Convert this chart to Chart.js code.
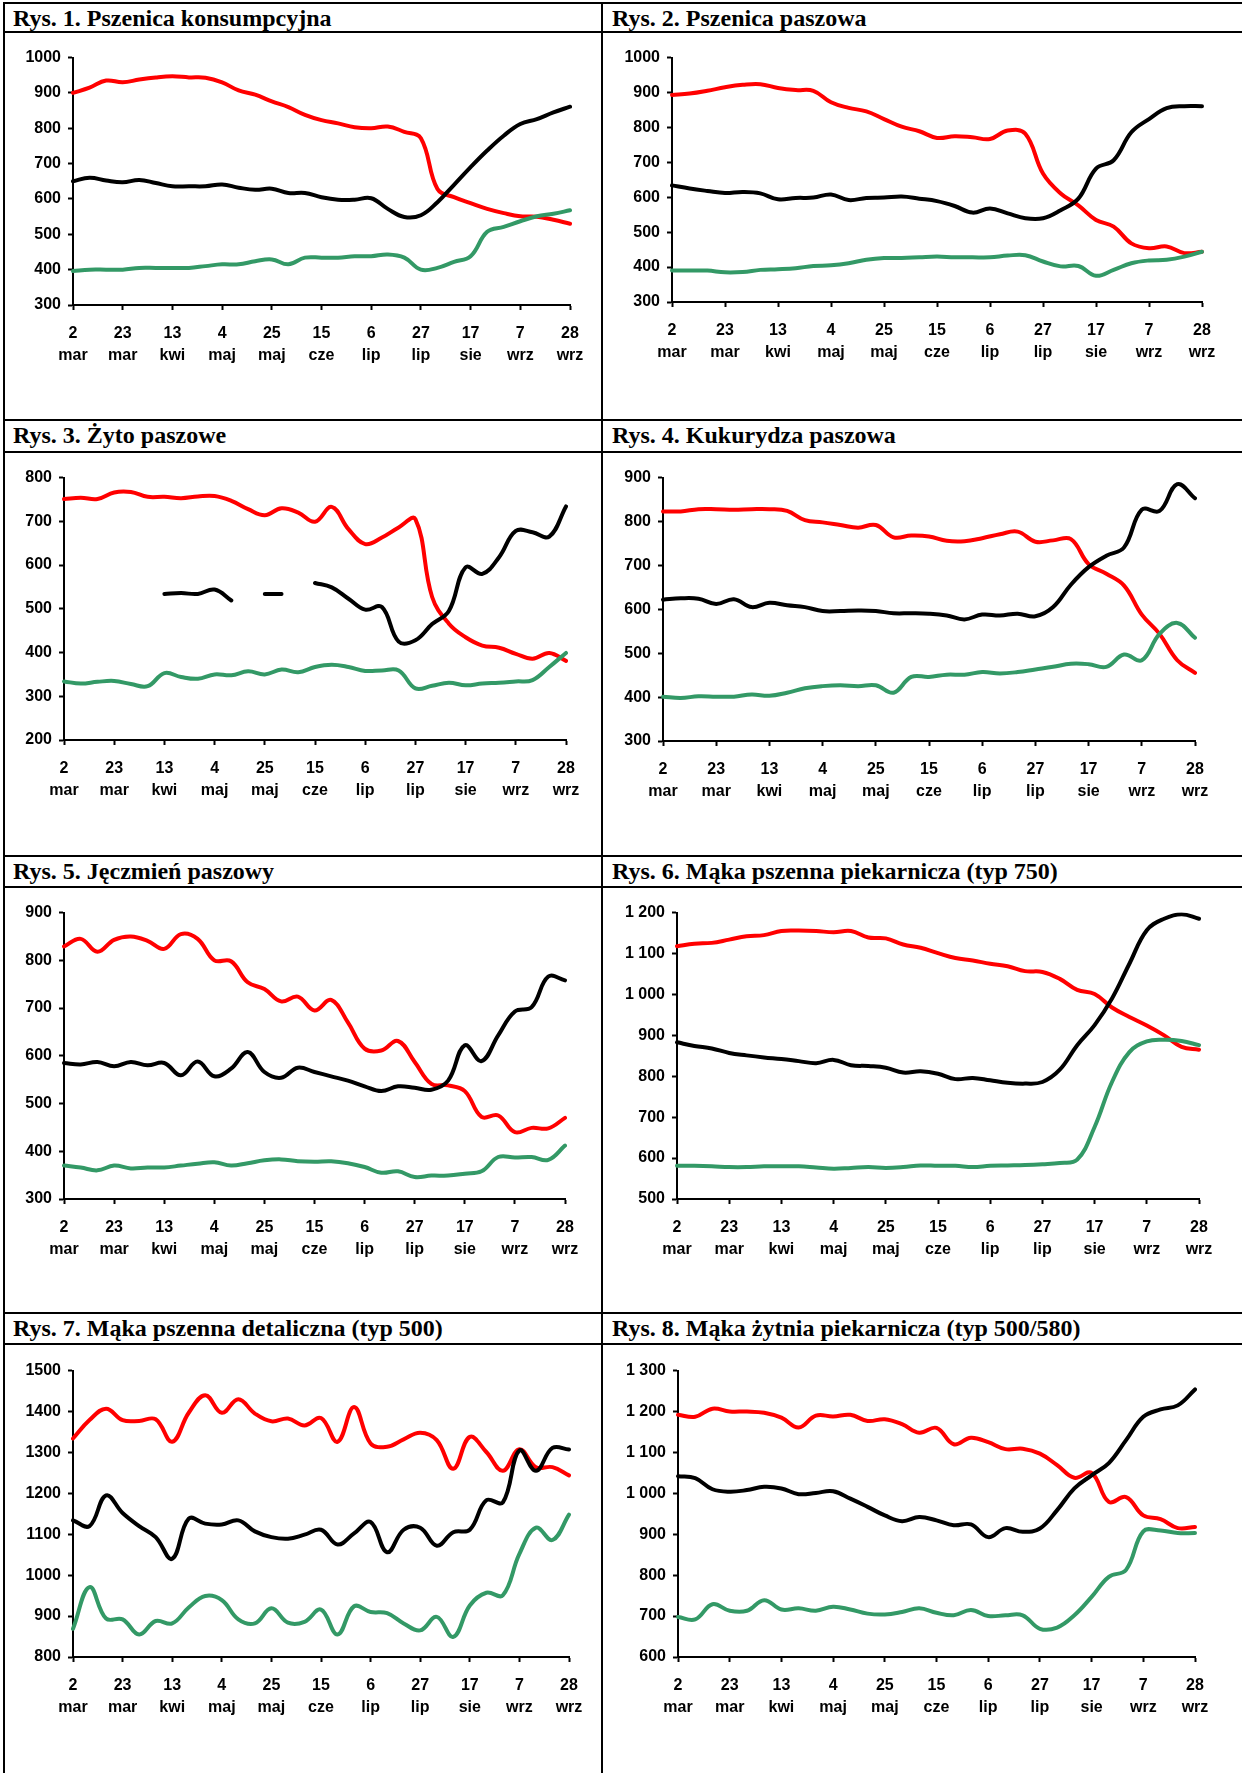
<!DOCTYPE html>
<html lang="pl">
<head>
<meta charset="utf-8">
<script src="https://cdn.jsdelivr.net/npm/chart.js@4.4.0/dist/chart.umd.min.js"></script>
<style>
  body { margin: 0; background: #fff; width: 1242px; height: 1773px; position: relative; overflow: hidden; }
  .linia { position: absolute; background: #000; }
  .tytul { position: absolute; font: bold 24px "Liberation Serif", "Times New Roman", serif; line-height: 24px; white-space: nowrap; color: #000; }
  canvas { position: absolute; }
</style>
</head>
<body>
<script>
// tygodnie notowan (co 7 dni), etykieta co trzeci tydzien
const tygodnie = ['2 mar','9 mar','16 mar','23 mar','30 mar','6 kwi','13 kwi','20 kwi','27 kwi',
  '4 maj','11 maj','18 maj','25 maj','1 cze','8 cze','15 cze','22 cze','29 cze','6 lip','13 lip',
  '20 lip','27 lip','3 sie','10 sie','17 sie','24 sie','31 sie','7 wrz','14 wrz','21 wrz','28 wrz'];

const tytuly = [
  'Rys. 1. Pszenica konsumpcyjna',
  'Rys. 2. Pszenica paszowa',
  'Rys. 3. Żyto paszowe',
  'Rys. 4. Kukurydza paszowa',
  'Rys. 5. Jęczmień paszowy',
  'Rys. 6. Mąka pszenna piekarnicza (typ 750)',
  'Rys. 7. Mąka pszenna detaliczna (typ 500)',
  'Rys. 8. Mąka żytnia piekarnicza (typ 500/580)'
];

// zakresy osi Y: [min, max, krok]
const osieY = [[300, 1000, 100], [300, 1000, 100], [200, 800, 100], [300, 900, 100],
  [300, 900, 100], [500, 1200, 100], [800, 1500, 100], [600, 1300, 100]];

// Rys. 1
const rys1Czerwona = [900, 915, 935, 930, 938, 944, 947, 944, 943, 930, 907, 895, 876, 860, 838, 823, 814, 803, 800, 805, 790, 772, 628, 605, 588, 572, 560, 551, 550, 541, 530];
const rys1Czarna = [650, 660, 652, 647, 654, 645, 636, 636, 636, 641, 632, 626, 629, 617, 617, 605, 598, 598, 602, 572, 549, 554, 591, 640, 690, 737, 779, 812, 826, 845, 861];
const rys1Zielona = [396, 400, 400, 400, 405, 405, 405, 405, 410, 415, 415, 424, 429, 415, 434, 434, 434, 438, 438, 443, 434, 400, 405, 422, 438, 507, 521, 537, 551, 558, 568];

// Rys. 2
const rys2Czerwona = [893, 897, 905, 915, 922, 924, 913, 907, 905, 872, 856, 846, 824, 802, 789, 770, 775, 772, 767, 791, 782, 668, 611, 577, 535, 516, 468, 454, 459, 440, 444];
const rys2Czarna = [634, 625, 618, 612, 615, 611, 594, 598, 599, 608, 592, 598, 599, 602, 596, 589, 575, 556, 568, 554, 540, 540, 563, 596, 682, 706, 786, 824, 855, 861, 861];
const rys2Zielona = [390, 390, 390, 385, 386, 392, 394, 397, 403, 405, 411, 421, 426, 426, 428, 430, 428, 428, 428, 433, 434, 416, 402, 403, 375, 392, 411, 419, 421, 430, 444];

// Rys. 3
const rys3Czerwona = [751, 754, 751, 766, 767, 756, 756, 753, 757, 758, 747, 728, 714, 730, 720, 699, 733, 682, 648, 663, 686, 705, 527, 466, 435, 416, 411, 397, 386, 399, 381];
const rys3Czarna = [null, null, null, null, null, null, 534, 536, 534, 544, 519, null, 534, 534, null, 559, 549, 523, 498, 504, 425, 428, 465, 495, 595, 580, 618, 678, 675, 665, 734];
const rys3Zielona = [334, 329, 333, 335, 328, 323, 353, 344, 340, 350, 348, 357, 350, 361, 355, 367, 372, 367, 358, 359, 359, 318, 324, 331, 325, 329, 331, 334, 337, 367, 399];

// Rys. 4
const rys4Czerwona = [823, 823, 828, 828, 827, 828, 828, 824, 803, 798, 792, 786, 792, 764, 768, 766, 756, 755, 762, 771, 777, 754, 757, 760, 703, 681, 654, 588, 544, 484, 455];
const rys4Czarna = [622, 625, 624, 612, 623, 605, 615, 609, 605, 596, 596, 597, 596, 591, 591, 590, 586, 577, 588, 586, 590, 584, 605, 656, 696, 722, 741, 827, 824, 885, 853];
const rys4Zielona = [401, 398, 402, 401, 401, 406, 403, 410, 420, 425, 427, 425, 427, 410, 446, 446, 451, 451, 457, 454, 457, 463, 469, 476, 475, 469, 497, 484, 544, 569, 535];

// Rys. 5
const rys5Czerwona = [829, 845, 818, 843, 850, 841, 824, 855, 845, 800, 798, 754, 740, 714, 724, 695, 717, 670, 615, 611, 631, 587, 541, 538, 526, 472, 475, 440, 449, 448, 470];
const rys5Czarna = [585, 582, 587, 578, 587, 580, 585, 559, 588, 557, 573, 608, 566, 554, 575, 566, 557, 548, 536, 526, 536, 533, 529, 548, 622, 589, 643, 693, 702, 766, 758];
const rys5Zielona = [370, 366, 360, 370, 364, 366, 366, 370, 374, 377, 370, 375, 381, 383, 379, 378, 379, 375, 367, 355, 358, 346, 349, 349, 353, 358, 388, 387, 388, 382, 412];

// Rys. 6
const rys6Czerwona = [1118, 1124, 1126, 1134, 1142, 1145, 1155, 1156, 1155, 1152, 1155, 1139, 1137, 1122, 1114, 1101, 1089, 1083, 1075, 1069, 1057, 1055, 1038, 1011, 1001, 968, 945, 924, 900, 872, 865];
const rys6Czarna = [883, 874, 868, 857, 851, 846, 842, 837, 832, 840, 827, 825, 821, 809, 812, 806, 793, 796, 790, 784, 782, 786, 816, 876, 925, 990, 1075, 1157, 1185, 1196, 1185];
const rys6Zielona = [581, 581, 580, 578, 578, 580, 580, 580, 577, 574, 576, 578, 576, 578, 582, 581, 581, 578, 581, 582, 583, 585, 588, 596, 676, 786, 859, 885, 889, 886, 876];

// Rys. 7
const rys7Czerwona = [1334, 1379, 1407, 1379, 1377, 1381, 1326, 1397, 1440, 1397, 1430, 1395, 1376, 1383, 1366, 1384, 1326, 1411, 1322, 1314, 1332, 1348, 1330, 1260, 1338, 1301, 1255, 1308, 1264, 1264, 1244];
const rys7Czarna = [1134, 1120, 1195, 1152, 1120, 1093, 1040, 1138, 1126, 1124, 1134, 1107, 1093, 1089, 1099, 1111, 1075, 1102, 1130, 1056, 1111, 1116, 1072, 1105, 1111, 1183, 1178, 1305, 1255, 1311, 1307];
const rys7Zielona = [869, 971, 894, 892, 855, 888, 882, 921, 949, 939, 892, 882, 919, 884, 886, 916, 855, 924, 910, 907, 882, 865, 898, 849, 926, 957, 951, 1052, 1116, 1086, 1148];

// Rys. 8
const rys8Czerwona = [1192, 1187, 1207, 1200, 1200, 1197, 1185, 1161, 1190, 1188, 1192, 1177, 1181, 1169, 1148, 1160, 1120, 1136, 1125, 1108, 1109, 1097, 1069, 1038, 1050, 979, 991, 946, 937, 915, 918];
const rys8Czarna = [1042, 1037, 1010, 1004, 1008, 1016, 1012, 998, 1001, 1005, 987, 967, 946, 932, 942, 934, 922, 924, 893, 915, 906, 914, 959, 1012, 1044, 1074, 1130, 1187, 1205, 1215, 1254];
const rys8Zielona = [698, 692, 729, 713, 713, 739, 716, 719, 713, 723, 716, 706, 704, 710, 719, 708, 702, 715, 700, 702, 702, 669, 672, 702, 747, 796, 813, 907, 909, 903, 903];

const serie = [
  [rys1Czerwona, rys1Czarna, rys1Zielona],
  [rys2Czerwona, rys2Czarna, rys2Zielona],
  [rys3Czerwona, rys3Czarna, rys3Zielona],
  [rys4Czerwona, rys4Czarna, rys4Zielona],
  [rys5Czerwona, rys5Czarna, rys5Zielona],
  [rys6Czerwona, rys6Czarna, rys6Zielona],
  [rys7Czerwona, rys7Czarna, rys7Zielona],
  [rys8Czerwona, rys8Czarna, rys8Zielona]
];

// obszary wykresow na stronie: [lewo, gora, prawo, dol]
const obszary = [
  [73, 57, 570, 305], [672, 57, 1202, 302],
  [64, 477, 566, 740], [663, 477, 1195, 741],
  [64, 912, 565, 1199], [677, 912, 1199, 1199],
  [73, 1370, 569, 1657], [678, 1370, 1195, 1657]
];
const spacje = [false, false, false, false, false, true, false, true];

const wierszeGora = [3, 420, 856, 1313];
const wierszeTytul = [32, 451.5, 886.5, 1344];

function linia(x, y, w, h) {
  const d = document.createElement('div');
  d.className = 'linia';
  d.style.left = x + 'px'; d.style.top = y + 'px';
  d.style.width = w + 'px'; d.style.height = h + 'px';
  document.body.appendChild(d);
}

wierszeGora.forEach(y => linia(3, y - 1, 1239, 2));
wierszeTytul.forEach(y => linia(3, y - 1, 1239, 2));
linia(3, 2, 2, 1771);
linia(601, 2, 2, 1771);

tytuly.forEach((t, i) => {
  const d = document.createElement('div');
  d.className = 'tytul';
  d.textContent = t;
  d.style.left = (i % 2 === 0 ? 13 : 612) + 'px';
  d.style.top = (wierszeGora[Math.floor(i / 2)] + 3) + 'px';
  document.body.appendChild(d);
});

Chart.defaults.font.family = '"Liberation Sans", Arial, sans-serif';
Chart.defaults.font.weight = 'bold';
Chart.defaults.font.size = 16;
Chart.defaults.color = '#000';

const OS_Y = 72, GORA = 16, PRAWO = 40, OS_X = 70;

function formatuj(v, zSpacja) {
  if (zSpacja && v >= 1000) return Math.floor(v / 1000) + ' ' + String(v % 1000).padStart(3, '0');
  return String(v);
}

serie.forEach((dane, i) => {
  const [l, t, r, b] = obszary[i];
  const [ymin, ymax, krok] = osieY[i];
  const c = document.createElement('canvas');
  const w = r - l + OS_Y + PRAWO, h = b - t + GORA + OS_X;
  c.width = w; c.height = h;
  c.style.left = (l - OS_Y) + 'px'; c.style.top = (t - GORA) + 'px';
  c.style.width = w + 'px'; c.style.height = h + 'px';
  document.body.appendChild(c);

  new Chart(c, {
    type: 'line',
    data: {
      labels: tygodnie,
      datasets: [
        { data: dane[0], borderColor: '#ff0000', order: 3 },
        { data: dane[1], borderColor: '#000000', order: 2 },
        { data: dane[2], borderColor: '#339966', order: 1 }
      ]
    },
    options: {
      responsive: false,
      animation: false,
      layout: { padding: { left: 0, top: GORA, right: PRAWO, bottom: 0 } },
      elements: {
        line: { borderWidth: 4, tension: 0.4, fill: false, borderCapStyle: 'round' },
        point: { radius: 0 }
      },
      plugins: { legend: { display: false }, tooltip: { enabled: false } },
      scales: {
        x: {
          offset: false,
          grid: {
            drawOnChartArea: false, drawTicks: true, tickLength: 5, tickWidth: 2,
            tickColor: ctx => ctx.index % 3 === 0 ? '#000' : 'rgba(0,0,0,0)'
          },
          border: { color: '#000', width: 2 },
          ticks: {
            autoSkip: false, maxRotation: 0, minRotation: 0, padding: 12,
            font: { size: 16, lineHeight: 1.4 },
            callback: (v, k) => k % 3 === 0 ? tygodnie[k].split(' ') : ''
          },
          afterFit: s => { s.height = OS_X; }
        },
        y: {
          min: ymin, max: ymax,
          grid: { drawOnChartArea: false, drawTicks: true, tickLength: 5, tickWidth: 2, tickColor: '#000' },
          border: { color: '#000', width: 2 },
          ticks: { stepSize: krok, padding: 7, callback: v => formatuj(v, spacje[i]) },
          afterFit: s => { s.width = OS_Y; }
        }
      }
    }
  });
});
</script>
</body>
</html>
